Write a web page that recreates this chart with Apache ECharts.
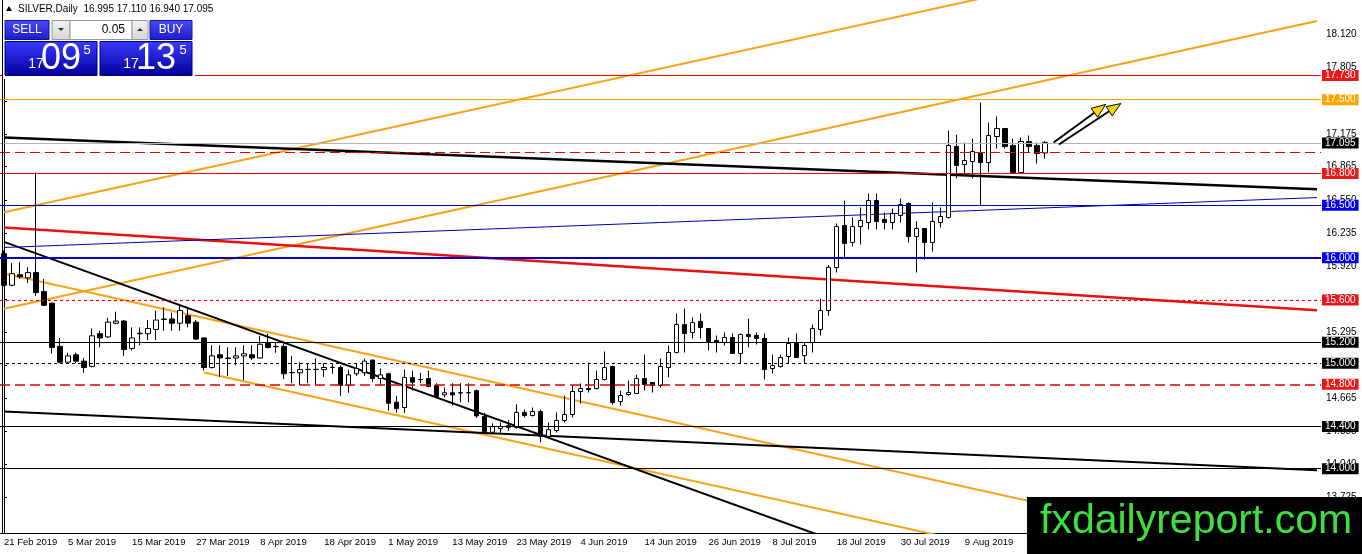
<!DOCTYPE html>
<html lang="en">
<head>
<meta charset="UTF-8">
<title>SILVER Daily</title>
<script src="https://cdn.jsdelivr.net/npm/echarts@6/dist/echarts.min.js"></script>
<style>
    html, body { margin: 0; padding: 0; background: #fff; }
    #main { width: 1362px; height: 554px; }
</style>
</head>
<body>
<div id="main"></div>
<script>
    // daily bars, [open, high, low, close]
    var bars = [
        [16.040, 16.070, 15.730, 15.740], [15.740, 15.950, 15.730, 15.850], [15.840, 15.960, 15.800, 15.820],
        [15.810, 15.910, 15.760, 15.860], [15.860, 16.810, 15.640, 15.670], [15.680, 15.800, 15.540, 15.550],
        [15.570, 15.575, 15.090, 15.150], [15.160, 15.240, 15.000, 15.010], [15.010, 15.100, 15.000, 15.070],
        [15.080, 15.100, 15.000, 15.020], [15.020, 15.050, 14.910, 14.960], [14.970, 15.330, 14.960, 15.260],
        [15.280, 15.310, 15.150, 15.240], [15.250, 15.430, 15.240, 15.390], [15.380, 15.490, 15.370, 15.400],
        [15.400, 15.410, 15.070, 15.130], [15.140, 15.340, 15.120, 15.240], [15.280, 15.340, 15.170, 15.285],
        [15.280, 15.410, 15.220, 15.330], [15.320, 15.500, 15.220, 15.410], [15.415, 15.530, 15.310, 15.420],
        [15.420, 15.480, 15.310, 15.380], [15.380, 15.550, 15.310, 15.500], [15.450, 15.520, 15.340, 15.380],
        [15.390, 15.410, 15.220, 15.230], [15.240, 15.245, 14.930, 14.960], [14.960, 15.170, 14.950, 15.070],
        [15.080, 15.170, 14.870, 15.050], [15.050, 15.150, 14.880, 15.045], [15.050, 15.150, 14.980, 15.070],
        [15.070, 15.170, 14.840, 15.090], [15.080, 15.170, 15.030, 15.050], [15.050, 15.260, 15.045, 15.180],
        [15.190, 15.280, 15.140, 15.150], [15.160, 15.200, 15.100, 15.157], [15.160, 15.190, 14.850, 14.900],
        [14.910, 15.070, 14.810, 14.912], [14.910, 15.010, 14.790, 14.940], [14.940, 15.000, 14.810, 14.942],
        [14.942, 15.045, 14.790, 14.940], [14.940, 15.000, 14.870, 14.960], [14.960, 15.000, 14.900, 14.962],
        [14.960, 14.980, 14.690, 14.790], [14.790, 14.940, 14.720, 14.890], [14.900, 15.000, 14.880, 14.950],
        [14.910, 15.045, 14.880, 15.020], [15.030, 15.035, 14.820, 14.855], [14.855, 14.950, 14.790, 14.890],
        [14.900, 14.910, 14.550, 14.620], [14.630, 14.690, 14.530, 14.570], [14.580, 14.940, 14.530, 14.865],
        [14.865, 14.930, 14.740, 14.820], [14.846, 14.910, 14.810, 14.844], [14.855, 14.930, 14.770, 14.780],
        [14.790, 14.810, 14.675, 14.685], [14.700, 14.770, 14.675, 14.720], [14.720, 14.810, 14.600, 14.700],
        [14.720, 14.810, 14.630, 14.718], [14.720, 14.810, 14.630, 14.722], [14.740, 14.750, 14.480, 14.500],
        [14.495, 14.530, 14.340, 14.350], [14.345, 14.430, 14.333, 14.400], [14.380, 14.440, 14.340, 14.400],
        [14.390, 14.460, 14.360, 14.410], [14.390, 14.610, 14.380, 14.533], [14.533, 14.560, 14.485, 14.504],
        [14.504, 14.580, 14.495, 14.542], [14.542, 14.560, 14.250, 14.305], [14.305, 14.440, 14.296, 14.370],
        [14.362, 14.533, 14.343, 14.457], [14.457, 14.694, 14.438, 14.514], [14.514, 14.789, 14.485, 14.732],
        [14.732, 14.808, 14.618, 14.760], [14.760, 15.007, 14.722, 14.751], [14.760, 14.931, 14.751, 14.846],
        [14.846, 15.111, 14.836, 14.959], [14.969, 14.978, 14.608, 14.627], [14.637, 14.741, 14.599, 14.694],
        [14.703, 14.836, 14.694, 14.722], [14.713, 14.893, 14.713, 14.855], [14.855, 15.083, 14.741, 14.798],
        [14.817, 14.820, 14.722, 14.789], [14.789, 15.045, 14.770, 14.969], [14.959, 15.168, 14.865, 15.102],
        [15.102, 15.472, 15.093, 15.367], [15.367, 15.519, 15.102, 15.282], [15.292, 15.434, 15.235, 15.386],
        [15.396, 15.472, 15.235, 15.339], [15.329, 15.330, 15.121, 15.206], [15.216, 15.263, 15.102, 15.197],
        [15.197, 15.292, 15.168, 15.244], [15.244, 15.282, 15.090, 15.093], [15.093, 15.282, 14.997, 15.273],
        [15.273, 15.424, 15.150, 15.254], [15.263, 15.292, 15.178, 15.235], [15.235, 15.282, 14.846, 14.940],
        [14.950, 15.083, 14.903, 14.978], [14.969, 15.083, 14.959, 15.054], [15.064, 15.244, 14.997, 15.187],
        [15.187, 15.282, 15.050, 15.054], [15.073, 15.197, 14.997, 15.168], [15.197, 15.367, 15.102, 15.329],
        [15.320, 15.614, 15.263, 15.500], [15.500, 15.930, 15.450, 15.910], [15.908, 16.326, 15.861, 16.297],
        [16.307, 16.544, 16.003, 16.136], [16.146, 16.383, 16.108, 16.297], [16.297, 16.478, 16.127, 16.354],
        [16.335, 16.610, 16.269, 16.544], [16.544, 16.610, 16.269, 16.345], [16.364, 16.430, 16.269, 16.335],
        [16.335, 16.468, 16.269, 16.421], [16.402, 16.563, 16.335, 16.506], [16.515, 16.525, 16.146, 16.202],
        [16.202, 16.345, 15.861, 16.278], [16.278, 16.280, 15.984, 16.146], [16.146, 16.525, 16.060, 16.345],
        [16.335, 16.478, 16.288, 16.392], [16.383, 17.208, 16.373, 17.066], [17.056, 17.170, 16.753, 16.876],
        [16.885, 17.094, 16.800, 16.923], [16.914, 17.132, 16.753, 17.009], [17.000, 17.474, 16.497, 16.904],
        [16.904, 17.284, 16.810, 17.161], [17.151, 17.341, 17.037, 17.227], [17.227, 17.230, 17.037, 17.056],
        [17.066, 17.132, 16.800, 16.810], [16.810, 17.142, 16.800, 17.104], [17.104, 17.161, 16.999, 17.056],
        [17.066, 17.094, 16.895, 16.990], [16.995, 17.110, 16.940, 17.095]
    ];

    var slotCount = 165;   // bar slots across the visible window
    var dateLabels = ['21 Feb 2019', '5 Mar 2019', '15 Mar 2019', '27 Mar 2019', '8 Apr 2019', '18 Apr 2019',
        '1 May 2019', '13 May 2019', '23 May 2019', '4 Jun 2019', '14 Jun 2019', '26 Jun 2019', '8 Jul 2019',
        '18 Jul 2019', '30 Jul 2019', '9 Aug 2019'];
    var priceTicks = [18.120, 17.805, 17.490, 17.175, 16.865, 16.550, 16.235, 15.920, 15.605, 15.295,
        14.980, 14.665, 14.355, 14.040, 13.725];

    // horizontal levels
    var levelPrices = [17.730, 17.500, 17.095, 17.000, 16.800, 16.500, 16.000, 15.600, 15.200, 15.000, 14.800, 14.400, 14.000];
    var levelColors = ['#ff0000', '#ffa500', '#b4b4b4', '#e00000', '#ff0000', '#0000c0', '#0000c8', '#ff0000',
        '#000000', '#000000', '#e00000', '#000000', '#000000'];
    var levelTags = ['#e81818', '#ffa500', '#000000', null, '#e81818', '#0000f0', '#0000f0', '#e81818',
        '#000000', '#000000', '#e81818', '#000000', '#000000'];
    var levelDash = ['solid', 'solid', 'solid', [10, 5], 'solid', 'solid', 'solid', [3, 3],
        'solid', [3, 3], [10, 5], 'solid', 'solid'];
    var levelWidth = [1.2, 1.2, 1, 1, 1.2, 1, 2, 1.2, 1, 1, 1.5, 1, 1];

    // trend lines: [bar, price, bar, price]
    var trendLines = [
        { pts: [0, 16.432, 164, 19.158], color: '#f7a21b', width: 2 },
        { pts: [0, 15.517, 164, 18.247], color: '#f7a21b', width: 2 },
        { pts: [0, 15.851, 164, 13.086], color: '#f7a21b', width: 2 },
        { pts: [25, 14.912, 164, 12.570], color: '#f7a21b', width: 2 },
        { pts: [0, 16.151, 164, 11.670], color: '#000000', width: 2 },
        { pts: [0, 14.542, 164, 13.984], color: '#000000', width: 2 },
        { pts: [0, 17.142, 164, 16.650], color: '#000000', width: 2.5 },
        { pts: [0, 16.288, 164, 15.503], color: '#e81010', width: 2.5 },
        { pts: [0, 16.098, 164, 16.572], color: '#0000b4', width: 1 }
    ];

    // the two arrows drawn on the chart, [bar, price]
    var arrowTails = [[131.1, 17.094], [131.75, 17.075]];
    var arrowTips = [[137.6, 17.455], [139.5, 17.464]];

    var FONT = '"Liberation Sans", Arial, sans-serif';

    var slots = [];
    for (var i = 0; i < slotCount; i++) slots.push(i);

    var candleData = bars.map(function (b) { return [b[0], b[3], b[2], b[1]]; });

    var levelLines = levelPrices.map(function (p, k) {
        return {
            yAxis: p,
            lineStyle: { color: levelColors[k], width: levelWidth[k], type: levelDash[k], opacity: 1 },
            label: levelTags[k] ? {
                show: true, position: 'end', distance: 1,
                formatter: p.toFixed(3),
                color: '#fff', backgroundColor: levelTags[k],
                fontFamily: FONT, fontSize: 10, padding: [1, 3, 0, 3]
            } : { show: false }
        };
    });

    var series = trendLines.map(function (t) {
        return {
            type: 'line', xAxisIndex: 1, yAxisIndex: 0,
            data: [[t.pts[0], t.pts[1]], [t.pts[2], t.pts[3]]],
            symbol: 'none', clip: true, silent: true, z: 3,
            lineStyle: { color: t.color, width: t.width }
        };
    });

    series.push({
        type: 'candlestick',
        data: candleData,
        barWidth: 5,
        z: 4,
        itemStyle: {
            color: '#ffffff', color0: '#000000',
            borderColor: '#000000', borderColor0: '#000000', borderWidth: 1
        },
        markLine: {
            silent: true, symbol: ['none', 'none'], animation: false,
            data: levelLines
        }
    });

    var option = {
        animation: false,
        backgroundColor: '#ffffff',
        grid: { left: 0, right: 41, top: 0, bottom: 21 },
        xAxis: [{
            type: 'category',
            data: slots,
            boundaryGap: true,
            axisLine: { lineStyle: { color: '#000', width: 1 } },
            axisTick: { alignWithLabel: true, interval: 7, length: 3, lineStyle: { color: '#000' } },
            axisLabel: {
                interval: 7, align: 'left', margin: 4,
                color: '#000', fontFamily: FONT, fontSize: 9.5,
                formatter: function (v, idx) { return dateLabels[idx / 8] || ''; }
            },
            splitLine: { show: false }
        }, {
            type: 'value', min: -0.5, max: slotCount - 0.5, show: false
        }],
        yAxis: [{
            type: 'value', position: 'right', scale: true,
            min: 13.3894, max: 18.4463,
            axisLine: { show: true, lineStyle: { color: '#000' } },
            axisTick: { show: true, length: 3, customValues: priceTicks, lineStyle: { color: '#000' } },
            axisLabel: {
                customValues: priceTicks, margin: 5,
                color: '#000', fontFamily: FONT, fontSize: 10,
                formatter: function (v) { return v.toFixed(3); }
            },
            splitLine: { show: false }
        }],
        series: series
    };

    var chart = echarts.init(document.getElementById('main'));
    chart.setOption(option);

    // ---- overlays: header panel, logo, arrows ----
    function grad(top, bottom) {
        return new echarts.graphic.LinearGradient(0, 0, 0, 1, [
            { offset: 0, color: top }, { offset: 1, color: bottom }
        ]);
    }
    function txt(x, y, s, size, fill, align, extra) {
        var st = { x: x, y: y, text: s, fill: fill, font: size + 'px ' + FONT, align: align || 'left', verticalAlign: 'middle' };
        if (extra) for (var k in extra) st[k] = extra[k];
        return { type: 'text', z: 101, style: st };
    }
    function rect(x, y, w, h, fill, stroke) {
        return { type: 'rect', z: 100, shape: { x: x, y: y, width: w, height: h }, style: { fill: fill, stroke: stroke || null, lineWidth: 1 } };
    }

    var els = [];
    // chart frame left edge
    els.push({ type: 'line', z: 50, shape: { x1: 2.5, y1: 0, x2: 2.5, y2: 533 }, style: { stroke: '#000', lineWidth: 1 } });
    // header
    els.push(rect(3, 0, 192, 79, '#ffffff'));
    els.push({ type: 'polygon', z: 101, shape: { points: [[6, 11], [12, 11], [9, 6]] }, style: { fill: '#000' } });
    els.push(txt(18, 9, 'SILVER,Daily  16.995 17.110 16.940 17.095', 10, '#000'));
    els.push(rect(5, 20.5, 44, 19, grad('#4b4bf5', '#1c1cc8'), '#1010a0'));
    els.push(txt(27, 30, 'SELL', 12, '#fff', 'center'));
    els.push(rect(52, 20.5, 18, 19, grad('#f4f4f4', '#d4d4d4'), '#9a9a9a'));
    els.push({ type: 'polygon', z: 101, shape: { points: [[58, 28], [64, 28], [61, 31]] }, style: { fill: '#333' } });
    els.push(rect(70, 20.5, 62, 19, '#ffffff', '#9a9a9a'));
    els.push(txt(125, 30, '0.05', 12, '#000', 'right'));
    els.push(rect(132, 20.5, 16, 19, grad('#f4f4f4', '#d4d4d4'), '#9a9a9a'));
    els.push({ type: 'polygon', z: 101, shape: { points: [[137, 31], [143, 31], [140, 28]] }, style: { fill: '#333' } });
    els.push(rect(150, 20.5, 42, 19, grad('#4b4bf5', '#1c1cc8'), '#1010a0'));
    els.push(txt(171, 30, 'BUY', 12, '#fff', 'center'));
    els.push(rect(5, 41.5, 92, 34, grad('#3a3aff', '#00009a'), '#000080'));
    els.push(rect(100, 41.5, 92, 34, grad('#3a3aff', '#00009a'), '#000080'));
    els.push(txt(36, 64, '17', 14, '#fff', 'center'));
    els.push(txt(61, 59, '09', 36, '#fff', 'center'));
    els.push(txt(87, 50, '5', 13, '#fff', 'center'));
    els.push(txt(131, 64, '17', 14, '#fff', 'center'));
    els.push(txt(156, 59, '13', 36, '#fff', 'center'));
    els.push(txt(183, 50, '5', 13, '#fff', 'center'));
    // logo
    els.push(rect(1027, 497, 335, 57, '#000000'));
    els.push(txt(1040, 522, 'fxdailyreport.com', 41, '#3ee03e'));

    // arrows, placed through the chart scales
    for (var a = 0; a < arrowTips.length; a++) {
        var s = chart.convertToPixel({ xAxisIndex: 1, yAxisIndex: 0 }, arrowTails[a]);
        var t = chart.convertToPixel({ xAxisIndex: 1, yAxisIndex: 0 }, arrowTips[a]);
        var dx = t[0] - s[0], dy = t[1] - s[1];
        var len = Math.sqrt(dx * dx + dy * dy);
        var ux = dx / len, uy = dy / len, nx = -uy, ny = ux;
        var hl = 14, hw = 5.5;
        var bx = t[0] - ux * hl, by = t[1] - uy * hl;
        els.push({ type: 'line', z: 60, shape: { x1: s[0], y1: s[1], x2: bx, y2: by }, style: { stroke: '#000', lineWidth: 2 } });
        els.push({
            type: 'polygon', z: 61,
            shape: { points: [[t[0], t[1]], [bx + nx * hw, by + ny * hw], [bx - nx * hw, by - ny * hw]] },
            style: { fill: '#ffd700', stroke: '#000', lineWidth: 1 }
        });
    }

    chart.setOption({ graphic: { elements: els } });
</script>
</body>
</html>
